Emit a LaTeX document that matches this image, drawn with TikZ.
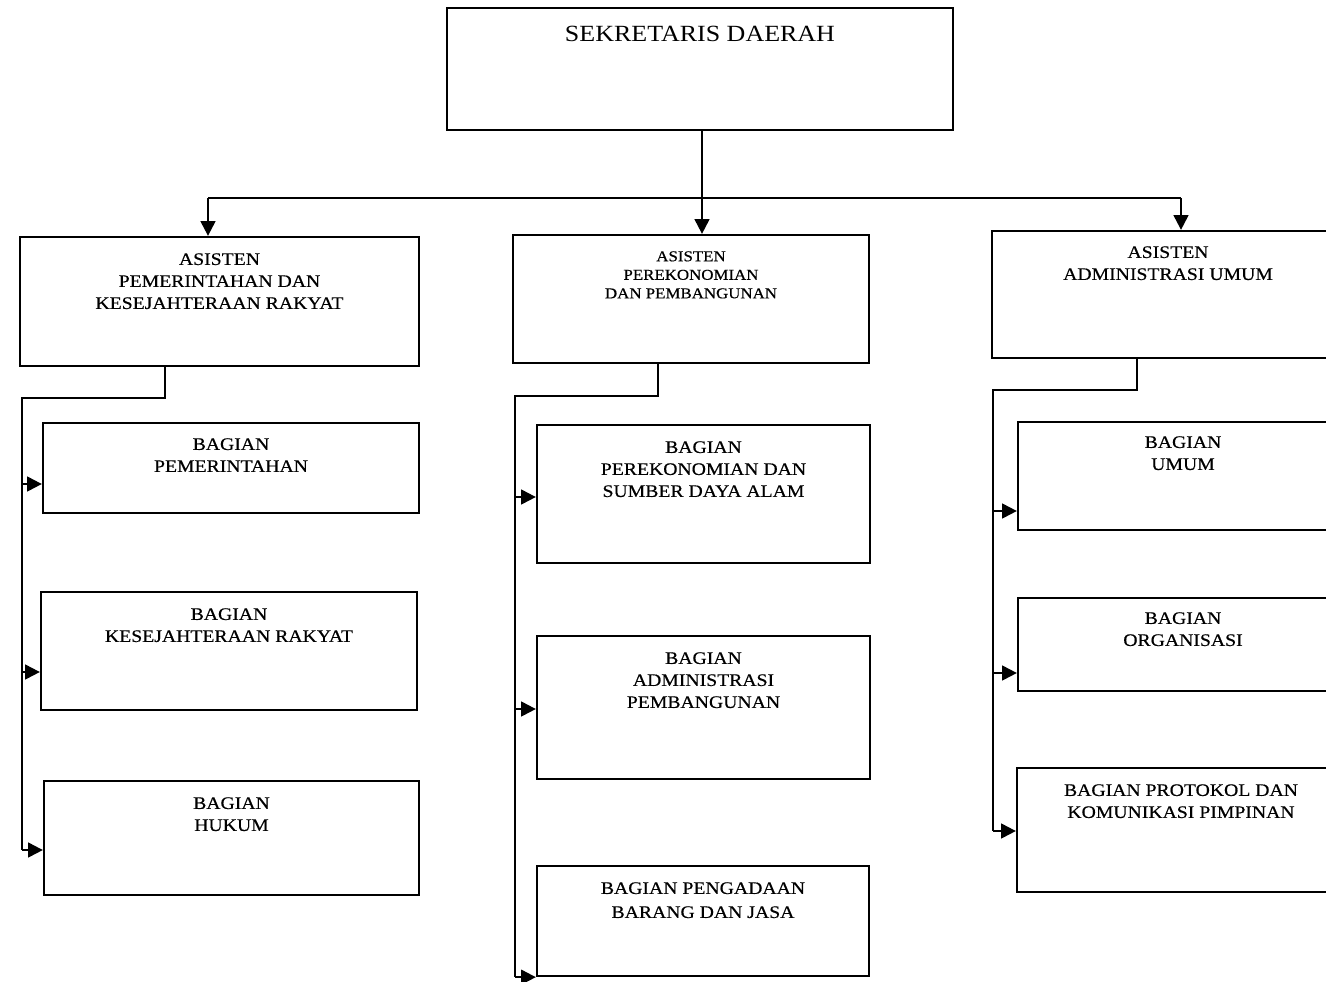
\documentclass[tikz,border=0pt]{standalone}
\usepackage{fontspec}
\setmainfont{Liberation Serif}[FakeStretch=1.12,FakeBold=0.5]
\newfontfamily\titlefont{Liberation Serif}[FakeStretch=1.12]
\usetikzlibrary{arrows.meta,fit}

\begin{document}
\begin{tikzpicture}[x=0.75pt,y=-0.75pt,
  box/.style={draw, line width=1.7pt, inner sep=0pt},
  conn/.style={line width=1.6pt},
  arr/.style={conn, -{Triangle[length=11pt,width=11pt]}},
  txt/.style={align=center, inner sep=0pt, anchor=north,
              font=\fontsize{13.2}{16.5}\selectfont},
  txtsmall/.style={txt, font=\fontsize{11.3}{13.9}\selectfont},
  txtbig/.style={txt, font=\titlefont\fontsize{17.4}{20}\selectfont}]

\useasboundingbox (0,0) rectangle (1326,981);
\clip (0,0) rectangle (1326,981);

% top level
\node[box, fit={(447,8) (953,130)}] (sd) {};
\node[txtbig] (sdt) at (700,26) {SEKRETARIS DAERAH};

% assistants
\node[box, fit={(20,237) (419,366)}] (a1) {};
\node[box, fit={(513,235) (869,363)}] (a2) {};
\node[box, fit={(992,231) (1344,358)}] (a3) {};
\node[txt] (a1t) at (219.5,253) {ASISTEN\\PEMERINTAHAN DAN\\KESEJAHTERAAN RAKYAT};
\node[txtsmall] (a2t) at (691,251) {ASISTEN\\PEREKONOMIAN\\DAN PEMBANGUNAN};
\node[txt] (a3t) at (1168,246) {ASISTEN\\ADMINISTRASI UMUM};

% sections under assistant 1
\node[box, fit={(43,423) (419,513)}] (b1) {};
\node[box, fit={(41,592) (417,710)}] (b2) {};
\node[box, fit={(44,781) (419,895)}] (b3) {};
\node[txt] (b1t) at (231,438) {BAGIAN\\PEMERINTAHAN};
\node[txt] (b2t) at (229,608) {BAGIAN\\KESEJAHTERAAN RAKYAT};
\node[txt] (b3t) at (231.5,797) {BAGIAN\\HUKUM};

% sections under assistant 2
\node[box, fit={(537,425) (870,563)}] (c1) {};
\node[box, fit={(537,636) (870,779)}] (c2) {};
\node[box, fit={(537,866) (869,976)}] (c3) {};
\node[txt] (c1t) at (703.5,441) {BAGIAN\\PEREKONOMIAN DAN\\SUMBER DAYA ALAM};
\node[txt] (c2t) at (703.5,652) {BAGIAN\\ADMINISTRASI\\PEMBANGUNAN};
\node[txt, font=\fontsize{13.2}{18}\selectfont] (c3t) at (703,882) {BAGIAN PENGADAAN\\BARANG DAN JASA};

% sections under assistant 3
\node[box, fit={(1018,422) (1348,530)}] (d1) {};
\node[box, fit={(1018,598) (1348,691)}] (d2) {};
\node[box, fit={(1017,768) (1348,892)}] (d3) {};
\node[txt] (d1t) at (1183,436) {BAGIAN\\UMUM};
\node[txt] (d2t) at (1183,612) {BAGIAN\\ORGANISASI};
\node[txt] (d3t) at (1181,784) {BAGIAN PROTOKOL DAN\\KOMUNIKASI PIMPINAN};

% distribution bus below the top box
\coordinate (bus) at (702,198);
\coordinate (busl) at (208,198);
\coordinate (busr) at (1181,198);
\draw[conn] (sd.south -| bus) -- (bus);
\draw[conn] (busl) -- (busr);
\draw[arr] (busl) -- (a1.north -| busl);
\draw[arr] (bus) -- (a2.north -| bus);
\draw[arr] (busr) -- (a3.north -| busr);

% trunk lines from each assistant
\coordinate (j1) at (165,398);  \coordinate (t1) at (22,398);
\coordinate (j2) at (658,396);  \coordinate (t2) at (515,396);
\coordinate (j3) at (1137,390); \coordinate (t3) at (993,390);

\draw[conn] (a1.south -| j1) -- (j1) -- (t1) -- (t1 |- 0,850);
\draw[conn] (a2.south -| j2) -- (j2) -- (t2) -- (t2 |- c3.south);
\draw[conn] (a3.south -| j3) -- (j3) -- (t3) -- (t3 |- 0,831);

\draw[arr] (t1 |- 0,484) -- (b1.west |- 0,484);
\draw[arr] (t1 |- 0,672) -- (b2.west |- 0,672);
\draw[arr] (t1 |- 0,850) -- (b3.west |- 0,850);

\draw[arr] (t2 |- 0,497) -- (c1.west |- 0,497);
\draw[arr] (t2 |- 0,709) -- (c2.west |- 0,709);
\draw[arr] (t2 |- c3.south) -- (c3.south west);

\draw[arr] (t3 |- 0,511) -- (d1.west |- 0,511);
\draw[arr] (t3 |- 0,673) -- (d2.west |- 0,673);
\draw[arr] (t3 |- 0,831) -- (d3.west |- 0,831);
\end{tikzpicture}
\end{document}
